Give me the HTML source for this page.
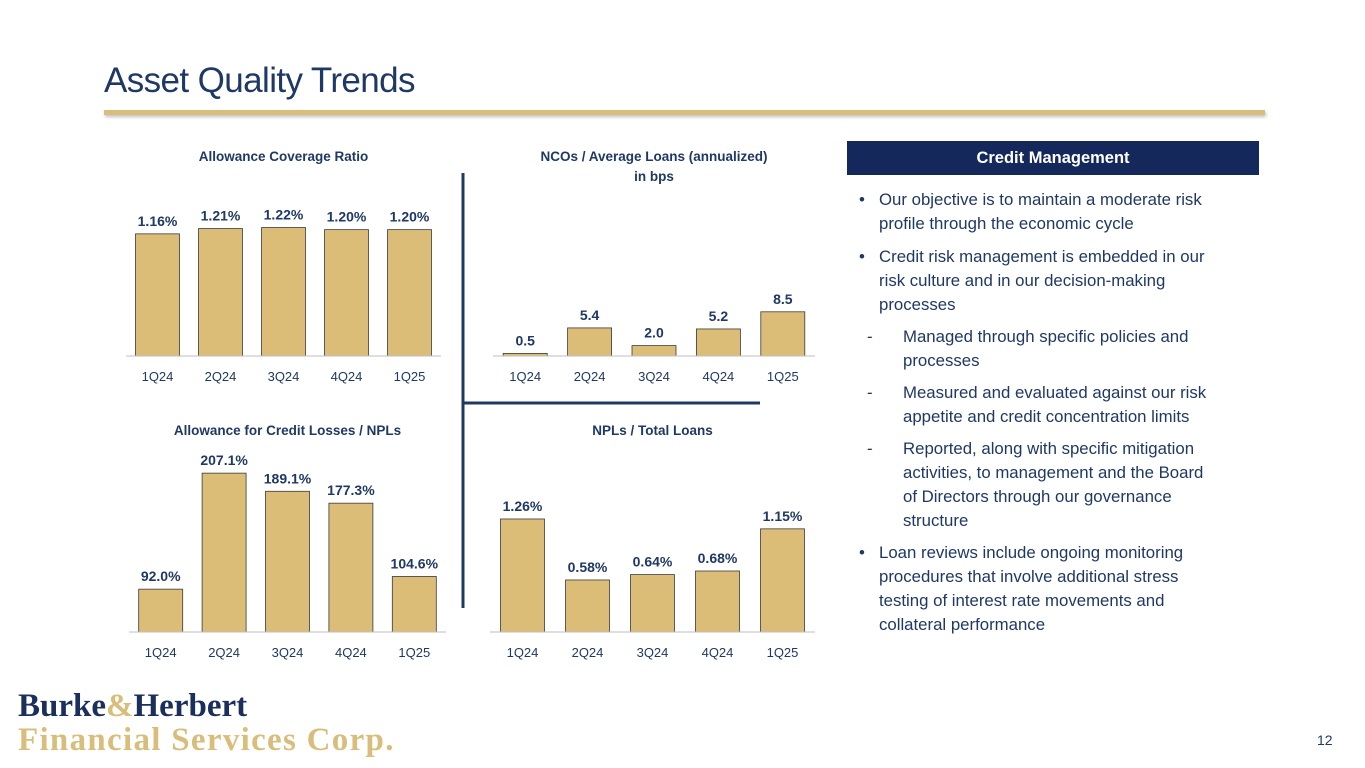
<!DOCTYPE html>
<html><head><meta charset="utf-8"><style>
body{margin:0;width:1365px;height:768px;background:#fff;position:relative;overflow:hidden;font-family:"Liberation Sans",sans-serif;color:#1f3864}
.abs{position:absolute}
.ln{position:absolute;font-size:16.8px;color:#1f3864;white-space:nowrap;line-height:20px}
</style></head><body>
<div class="abs" style="left:104px;top:61px;font-size:35px;color:#1f3864;letter-spacing:-0.6px">Asset Quality Trends</div>
<div class="abs" style="left:104px;top:110px;width:1161px;height:5px;background:#d9bd7a;box-shadow:1px 2px 3px rgba(0,0,0,0.25)"></div>

<svg class="abs" style="left:0;top:0" width="1365" height="768">
<g id="charts"></g>
<line x1="463" y1="173" x2="463" y2="608" stroke="#1f3864" stroke-width="3"/>
<line x1="463" y1="403" x2="760" y2="403" stroke="#1f3864" stroke-width="3"/>
</svg>

<div class="abs" style="left:847px;top:141px;width:412px;height:34px;background:#15285c;color:#fff;font-weight:bold;font-size:16.5px;line-height:34px;text-align:center">Credit Management</div>
<div id="bul"></div>

<div class="abs" style="left:18px;top:689px;font-family:'Liberation Serif',serif;font-weight:bold;line-height:34px">
<div style="font-size:33px;color:#1b2f5c;letter-spacing:0px">Burke<span style="color:#d9bd7a">&amp;</span>Herbert</div>
<div style="font-size:33px;color:#d9bd7a;letter-spacing:1.3px">Financial Services Corp.</div>
</div>
<div class="abs" style="left:1317px;top:732px;font-size:14px;color:#1f3864">12</div>

<script>
const cats=["1Q24","2Q24","3Q24","4Q24","1Q25"];
const acrValues=[1.16,1.21,1.22,1.20,1.20];
const acrLabels=["1.16%","1.21%","1.22%","1.20%","1.20%"];
const ncoValues=[0.5,5.4,2.0,5.2,8.5];
const ncoLabels=["0.5","5.4","2.0","5.2","8.5"];
const aclValues=[92.0,207.1,189.1,177.3,104.6];
const aclLabels=["92.0%","207.1%","189.1%","177.3%","104.6%"];
const nplValues=[1.26,0.58,0.64,0.68,1.15];
const nplLabels=["1.26%","0.58%","0.64%","0.68%","1.15%"];

const NS="http://www.w3.org/2000/svg";
const g=document.getElementById('charts');
function mk(t,a){const e=document.createElementNS(NS,t);for(const k in a)e.setAttribute(k,a[k]);g.appendChild(e);return e;}
function chart(o){
  const y=v=>o.base-(v-o.min)*o.scale;
  const step=(o.x1-o.x0)/cats.length;
  const t=mk('text',{x:(o.x0+o.x1)/2,y:o.titleY,'text-anchor':'middle','font-size':13.5,'font-weight':'bold',fill:'#1f3864'});
  t.textContent=o.title;
  
  
  if(o.sub){const s=mk('text',{x:(o.x0+o.x1)/2,y:o.titleY+20,'text-anchor':'middle','font-size':13.5,'font-weight':'bold',fill:'#1f3864'});s.textContent=o.sub;
  
  }
  o.vals.forEach((v,i)=>{
    const cx=o.x0+step*(i+0.5);
    const top=y(v);
    const r=mk('rect',{x:cx-22,y:top,width:44,height:o.base-top,fill:'#dcbd78',stroke:'#3a3a3a','stroke-width':0.8});
    
    
    const l=mk('text',{x:cx,y:top-8,'text-anchor':'middle','font-size':14,'font-weight':'bold',fill:'#1f3864'});
    l.textContent=o.labels[i];
    
    
    const c=mk('text',{x:cx,y:o.base+25,'text-anchor':'middle','font-size':13,fill:'#1f3864'});
    c.textContent=cats[i];
    
    
  });
  const ax=mk('line',{x1:o.x0,y1:o.base,x2:o.x1,y2:o.base,stroke:'#bfbfbf','stroke-width':1});
  
  
}
chart({name:'allowance-coverage',title:'Allowance Coverage Ratio',titleY:161,x0:126,x1:441,base:356,min:0,scale:105.3,vals:acrValues,labels:acrLabels});
chart({name:'ncos',title:'NCOs / Average Loans (annualized)',sub:'in bps',titleY:161,x0:493,x1:815,base:356,min:0,scale:5.2,vals:ncoValues,labels:ncoLabels});
chart({name:'acl-npls',title:'Allowance for Credit Losses / NPLs',titleY:435,x0:129,x1:446,base:632,min:49.5,scale:1.008,vals:aclValues,labels:aclLabels});
chart({name:'npl-loans',title:'NPLs / Total Loans',titleY:435,x0:490,x1:815,base:632,min:0,scale:89.7,vals:nplValues,labels:nplLabels});

const lines=[
 [200,'b','Our objective is to maintain a moderate risk'],[224,'','profile through the economic cycle'],
 [257,'b','Credit risk management is embedded in our'],[281,'','risk culture and in our decision-making'],[305,'','processes'],
 [337,'d','Managed through specific policies and'],[361,'d2','processes'],
 [393,'d','Measured and evaluated against our risk'],[417,'d2','appetite and credit concentration limits'],
 [449,'d','Reported, along with specific mitigation'],[473,'d2','activities, to management and the Board'],[497,'d2','of Directors through our governance'],[521,'d2','structure'],
 [553,'b','Loan reviews include ongoing monitoring'],[577,'','procedures that involve additional stress'],[601,'','testing of interest rate movements and'],[625,'','collateral performance']
];
const bul=document.getElementById('bul');
lines.forEach(([cy,k,txt])=>{
  const d=document.createElement('div');
  d.className='ln';
  d.style.top=(cy-10)+'px';
  const left=(k==='d'||k==='d2')?903:879;
  d.style.left=left+'px';
  d.textContent=txt;
  
  
  bul.appendChild(d);
  if(k==='b'||k==='d'){
    const m=document.createElement('div');
    m.className='ln';
    m.style.top=(cy-10)+'px';
    m.style.left=(k==='b'?859:867)+'px';
    m.textContent=k==='b'?'•':'-';
    
    
    bul.appendChild(m);
  }
});
</script>
</body></html>
